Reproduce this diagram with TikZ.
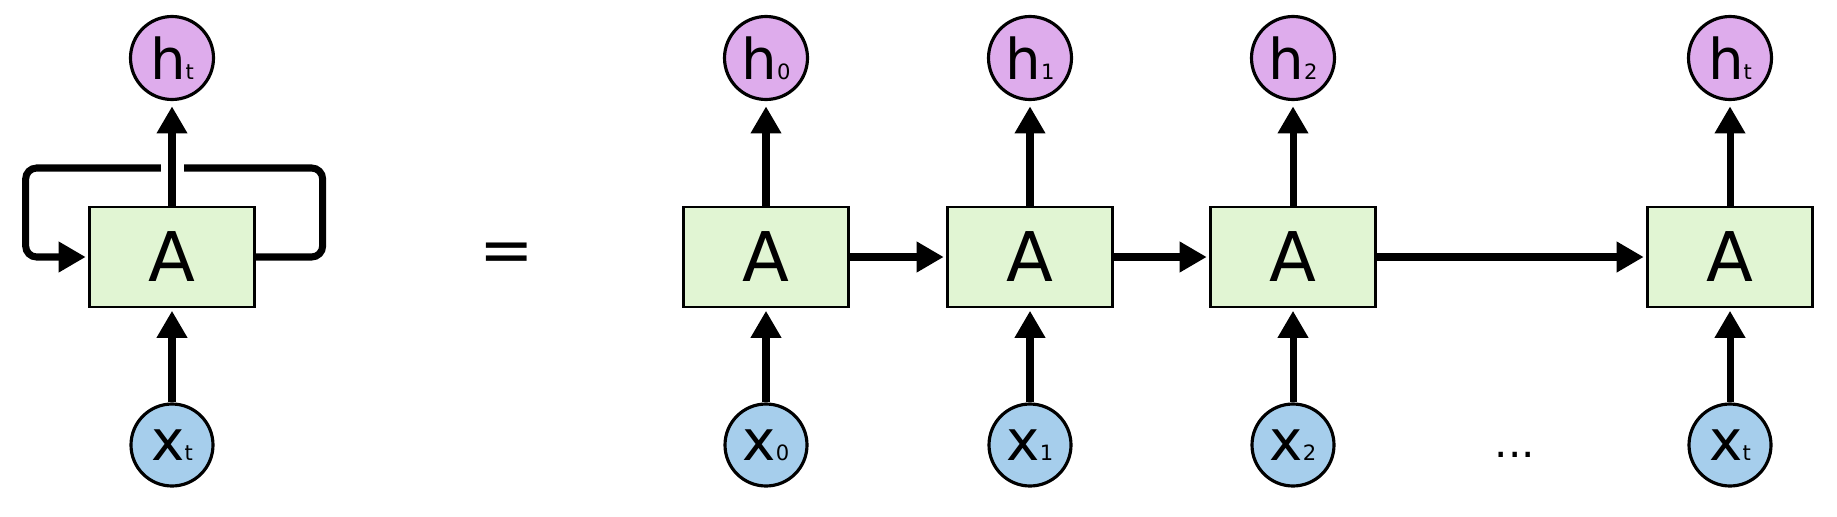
\documentclass[tikz,border=0pt]{standalone}
\usepackage{fontspec}
\setmainfont{DejaVu Sans}
\usepackage{tikz}
\usetikzlibrary{arrows.meta}
\definecolor{hpink}{RGB}{222,172,236}
\definecolor{xblue}{RGB}{166,206,236}
\definecolor{cellgreen}{RGB}{225,245,211}
\newcommand{\hlab}[1]{{\fontsize{32}{32}\selectfont h}{\fontsize{12}{12}\selectfont #1}}
\newcommand{\xlab}[1]{{\fontsize{32}{32}\selectfont x}{\fontsize{12}{12}\selectfont #1}}
\tikzset{
  cell/.style={draw,line width=1.3pt,fill=cellgreen,minimum width=3.3cm,minimum height=2cm,
    inner sep=0pt,font=\fontsize{39}{39}\selectfont},
  hout/.style={circle,draw,line width=1.8pt,fill=hpink,minimum size=1.66cm,inner sep=0pt},
  xin/.style={circle,draw,line width=1.8pt,fill=xblue,minimum size=1.64cm,inner sep=0pt},
  flow/.style={line width=4pt,-{Triangle[length=0.54cm,width=0.58cm]},shorten >=1.5pt},
}

\begin{document}
\begin{tikzpicture}
  \useasboundingbox (0,0) rectangle (36.74,10.32);
  % rolled network
  \node[cell] (Aroll) at (3.44,5.18) {A};
  \node[hout] (hroll) at (3.44,9.16) {\hlab{t}};
  \node[xin]  (xroll) at (3.44,1.42) {\xlab{t}};
  % loop
  \draw[line width=4pt,rounded corners=0.22cm,-{Triangle[length=0.54cm,width=0.58cm]},shorten >=1.5pt]
    (Aroll.east) -- ++(1.34,0) -- ++(0,1.78) -- ++(-5.94,0) -- ++(0,-1.78) -- (Aroll.west);
  \fill[white] (3.21,6.78) rectangle (3.67,7.14);
  \draw[flow,shorten >=3pt] (Aroll) -- (hroll);
  \draw[flow] (xroll) -- (Aroll);
  % equals
  \node[font=\fontsize{37}{37}\selectfont] (eq) at (10.14,5.16) {=};
  % unrolled network
  \foreach \i/\xx in {0/15.32,1/20.60,2/25.86,t/34.60}{
    \node[cell] (A\i) at (\xx,5.18) {A};
    \node[hout] (h\i) at (\xx,9.16) {\hlab{\i}};
    \node[xin]  (x\i) at (\xx,1.42) {\xlab{\i}};
    \draw[flow,shorten >=3pt] (A\i) -- (h\i);
    \draw[flow] (x\i) -- (A\i);
  }
  \draw[flow] (A0) -- (A1);
  \draw[flow] (A1) -- (A2);
  \draw[flow] (A2) -- (At);
  % dots
  \node[font=\fontsize{24}{24}\selectfont] (dots) at (30.30,1.22) {...};
\end{tikzpicture}
\end{document}
